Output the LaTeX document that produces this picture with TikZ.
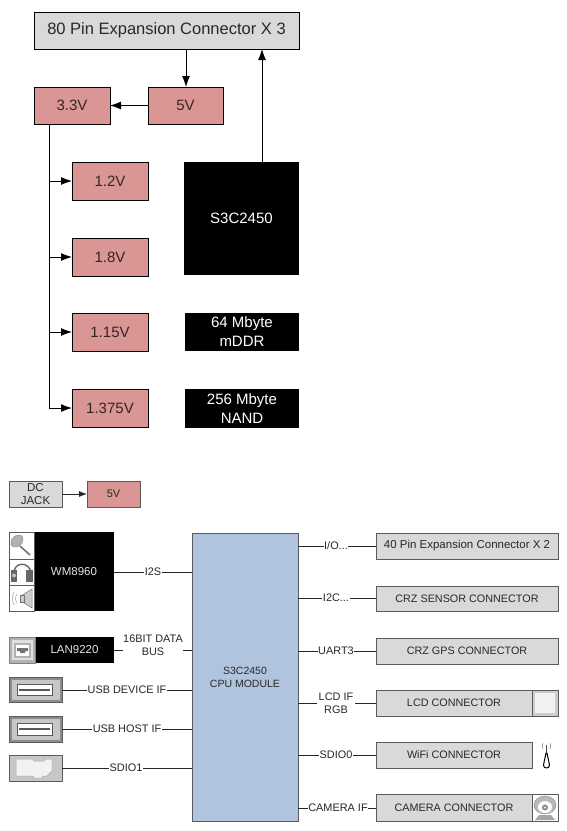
\documentclass[tikz,border=0pt]{standalone}
\usepackage{fontspec}
\setmainfont{Liberation Sans}
\usetikzlibrary{arrows.meta}
\definecolor{pinkb}{RGB}{217,150,148}
\definecolor{greyb}{RGB}{217,217,217}
\definecolor{cpub}{RGB}{176,196,222}
\definecolor{edgeg}{RGB}{90,90,90}
\definecolor{txt}{RGB}{40,40,40}
\newcommand{\bx}[7]{% name x1 y1 x2 y2 style text
  \pgfmathsetmacro{\bxw}{#4-#2}\pgfmathsetmacro{\bxh}{#5-#3}
  \pgfmathsetmacro{\bxx}{(#2+#4)/2}\pgfmathsetmacro{\bxy}{(#3+#5)/2}
  \node[#6,minimum width=\bxw pt,minimum height=\bxh pt] (#1) at (\bxx,\bxy) {#7};}
\tikzset{
  base/.style={inner sep=0pt,outer sep=0pt,align=center,text=txt},
  topgrey/.style={base,draw=black,line width=.9pt,fill=greyb,font=\fontsize{16.5}{18}\selectfont},
  volt/.style={base,draw=black,line width=.9pt,fill=pinkb,font=\fontsize{15}{18}\selectfont,text=black!75!pinkb},
  chip/.style={base,fill=black,text=white,font=\fontsize{15}{19}\selectfont},
  chipsm/.style={base,fill=black,text=white!90!black,font=\fontsize{11.5}{14}\selectfont},
  smgrey/.style={base,draw=edgeg,line width=.9pt,fill=greyb,font=\fontsize{11.5}{13.5}\selectfont},
  smpink/.style={base,draw=edgeg,line width=.9pt,fill=pinkb,font=\fontsize{11}{13}\selectfont},
  cpu/.style={base,draw=edgeg,line width=.6pt,fill=cpub,font=\fontsize{10.5}{13}\selectfont},
  conn/.style={base,draw=edgeg,line width=.9pt,fill=greyb,font=\fontsize{10.8}{13}\selectfont},
  cell/.style={base,draw=edgeg,line width=.7pt,fill=white},
  lbl/.style={base,fill=white,inner xsep=.6pt,inner ysep=.5pt,font=\fontsize{10.9}{13}\selectfont},
  wire/.style={draw=black!85,line width=.8pt},
  arr/.style={draw=black,line width=.9pt,-{Latex[length=11pt,width=8pt]}},
}
\begin{document}
\begin{tikzpicture}[x=1pt,y=-1pt]
\useasboundingbox (0,0) rectangle (567,831);
% upper part
\bx{pin}{34}{12}{299}{49}{topgrey}{80 Pin Expansion Connector X 3}
\bx{vfive}{148}{87}{223}{124}{volt}{5V}
\bx{vthree}{34}{87}{110}{124}{volt}{3.3V}
\bx{vone}{72}{162}{148}{200}{volt}{1.2V}
\bx{vtwo}{72}{238}{148}{276}{volt}{1.8V}
\bx{vfour}{72}{313}{148}{351}{volt}{1.15V}
\bx{vsix}{72}{389}{148}{427}{volt}{1.375V}
\bx{soc}{184}{162}{299}{275}{chip}{S3C2450}
\bx{ddr}{185}{313}{299}{351}{chip}{64 Mbyte\\mDDR}
\bx{nand}{185}{389}{299}{428}{chip}{256 Mbyte\\NAND}
\coordinate (pinout) at (186,49);
\coordinate (vin) at (186,87);
\draw[arr] (pinout) -- (vin);
\draw[arr] (vfive) -- (vthree);
\coordinate (socout) at (262,162);
\coordinate (pinin) at (262,49);
\draw[arr] (socout) -- (pinin);
\coordinate (trunk) at (49,124);
\coordinate (trunkend) at (49,408);
\draw[line width=.9pt] (trunk) -- (trunkend);
\foreach \t/\y in {vone/181,vtwo/257,vfour/332,vsix/408}{
  \coordinate (tap) at (49,\y);
  \draw[arr] (tap) -- (\t.west |- tap);
}
% lower left
\bx{dc}{9}{481}{62}{507}{smgrey}{DC\\JACK}
\bx{vin2}{87}{481}{140}{507}{smpink}{5V}
\draw[draw=black!85,line width=.8pt,-{Latex[length=8pt,width=6pt]}] (dc) -- (vin2);
\bx{cpumod}{192}{533}{298}{821}{cpu}{S3C2450\\CPU MODULE}
\bx{codec}{34}{532}{114}{611}{chipsm}{WM8960}
\bx{lan}{35}{637}{114}{663}{chipsm}{LAN9220}
\bx{mic}{9}{532}{34}{559}{cell}{}
\bx{phone}{9}{559}{34}{585}{cell}{}
\bx{spk}{9}{585}{34}{611}{cell}{}
\bx{lanjack}{9}{637}{35}{663}{base,draw=gray,line width=.8pt,fill=black!30}{}
\bx{usbd}{9}{677}{62}{702}{base,draw=edgeg,line width=.8pt,fill=black!45}{}
\bx{usbh}{9}{716}{62}{742}{base,draw=edgeg,line width=.8pt,fill=black!45}{}
\bx{sdc}{9}{755}{62}{781}{base,draw=edgeg,line width=.8pt,fill=black!22}{}
% icon details
\fill[black!22] (11.5,679.5) rectangle (59.5,699.5);
\fill[white,draw=edgeg,line width=.6pt] (17,684) rectangle (52,695);
\fill[black!65] (19,688.5) rectangle (50,691);
\fill[black!22] (11.5,718.5) rectangle (59.5,739.5);
\fill[white,draw=edgeg,line width=.6pt] (17,723) rectangle (52,735);
\fill[black!65] (19,727.5) rectangle (50,730);
\fill[black!5,draw=gray!70,line width=.5pt] (16,759) -- (33,759) -- (34,761) -- (44,761) -- (45,759) -- (52,759) -- (52,771) -- (47,776) -- (43,776) -- (42,778) -- (34,778) -- (33,776) -- (16,776) -- cycle;
\fill[black!12] (12,640) rectangle (33,660);
\fill[black!30] (14,643) rectangle (31,658);
\fill[white] (16,645) rectangle (29,656);
\fill[black!55] (17,648) -- (28,648) -- (28,651) -- (25,651) -- (25,653) -- (20,653) -- (20,651) -- (17,651) -- cycle;
% mic
\fill[black!30,draw=black!50,line width=.4pt,rotate around={45:(17,541)}] (17,541) ellipse (7pt and 5pt);
\draw[black!55,line width=1.6pt] (20,546) -- (30,555);
% headphones
\draw[black!60,line width=1.4pt] (14,574) .. controls (13,561) and (31,561) .. (31,574);
\fill[black!60] (10.5,570) rectangle (17,582);
\fill[black!60] (26,570) rectangle (33,582);
\fill[black!25] (14,575.5) circle (2pt);
% speaker
\fill[black!20,draw=black!55,line width=.5pt] (21,596) -- (32,589) -- (32,608) -- (21,601) -- cycle;
\fill[black!20,draw=black!55,line width=.5pt] (20,595) rectangle (24,602);
\draw[black!45,line width=.4pt] (17,594) .. controls (15,597) and (15,600) .. (17,603);
\draw[black!45,line width=.4pt] (14,592) .. controls (12,596) and (12,601) .. (14,605);
% connectors left
\foreach \s/\y in {codec/572,lan/650,usbd/690,usbh/729,sdc/768}{
  \coordinate (a) at (\s.east |- 0,\y);
  \coordinate (b) at (cpumod.west |- 0,\y);
  \draw[wire] (a) -- (b);
}
\node[lbl] (li2s) at (153,572) {I2S};
\node[lbl,inner xsep=.5pt] (l16) at (153,645) {16BIT DATA\\BUS};
\node[lbl] (lud) at (127,690) {USB DEVICE IF};
\node[lbl] (luh) at (127,729) {USB HOST IF};
\node[lbl] (lsd) at (126,768) {SDIO1};
% right
\bx{c1}{376}{533}{558}{559}{conn,font=\fontsize{11.5}{13}\selectfont}{40 Pin Expansion Connector X 2}
\bx{c2}{376}{586}{558}{611}{conn}{CRZ SENSOR CONNECTOR}
\bx{c3}{376}{638}{558}{664}{conn}{CRZ GPS CONNECTOR}
\bx{c4}{376}{690}{532}{716}{conn}{LCD CONNECTOR}
\bx{c5}{376}{742}{532}{768}{conn}{WiFi CONNECTOR}
\bx{c6}{376}{794}{532}{821}{conn}{CAMERA CONNECTOR}
\bx{lcdicon}{532}{690}{558}{716}{base,draw=edgeg,line width=.8pt,fill=black!20}{}
\fill[white!95!black] (535,693) rectangle (555,713);
\bx{camicon}{532}{794}{558}{821}{base,draw=edgeg,line width=.8pt,fill=white}{}
\fill[black!28,draw=black!45,line width=.4pt] (545,805) ellipse (11pt and 9pt);
\fill[white] (545,807) ellipse (7pt and 6pt);
\fill[black!45] (545,807.5) circle (3pt);
\fill[white] (545,807.5) circle (1pt);
\fill[black!35] (539,815) -- (551,815) -- (555,820) -- (535,820) -- cycle;
% antenna
\draw[black,line width=1pt,line join=round] (546,753) -- (543.5,765) .. controls (543,769) and (550,769) .. (549.5,765) -- (547,753) -- cycle;
\draw[black!70,line width=1pt] (546.5,745) -- (546.5,753);
\draw[black!50,line width=.5pt] (543,743) .. controls (542,745) and (542,747) .. (543,749);
\draw[black!50,line width=.5pt] (550,743) .. controls (551,745) and (551,747) .. (550,749);
\foreach \t/\y in {c1/546,c2/598,c3/651,c4/703,c5/755,c6/808}{
  \coordinate (a) at (cpumod.east |- 0,\y);
  \coordinate (b) at (\t.west |- 0,\y);
  \draw[wire] (a) -- (b);
}
\node[lbl] (ri) at (336,546) {I/O...};
\node[lbl] (rc) at (336,598) {I2C...};
\node[lbl] (ru) at (336,651) {UART3};
\node[lbl,inner xsep=2pt] (rl) at (336,703) {LCD IF\\RGB};
\node[lbl] (rs) at (336,755) {SDIO0};
\node[lbl] (rm) at (338,808) {CAMERA IF};
\end{tikzpicture}
\end{document}
